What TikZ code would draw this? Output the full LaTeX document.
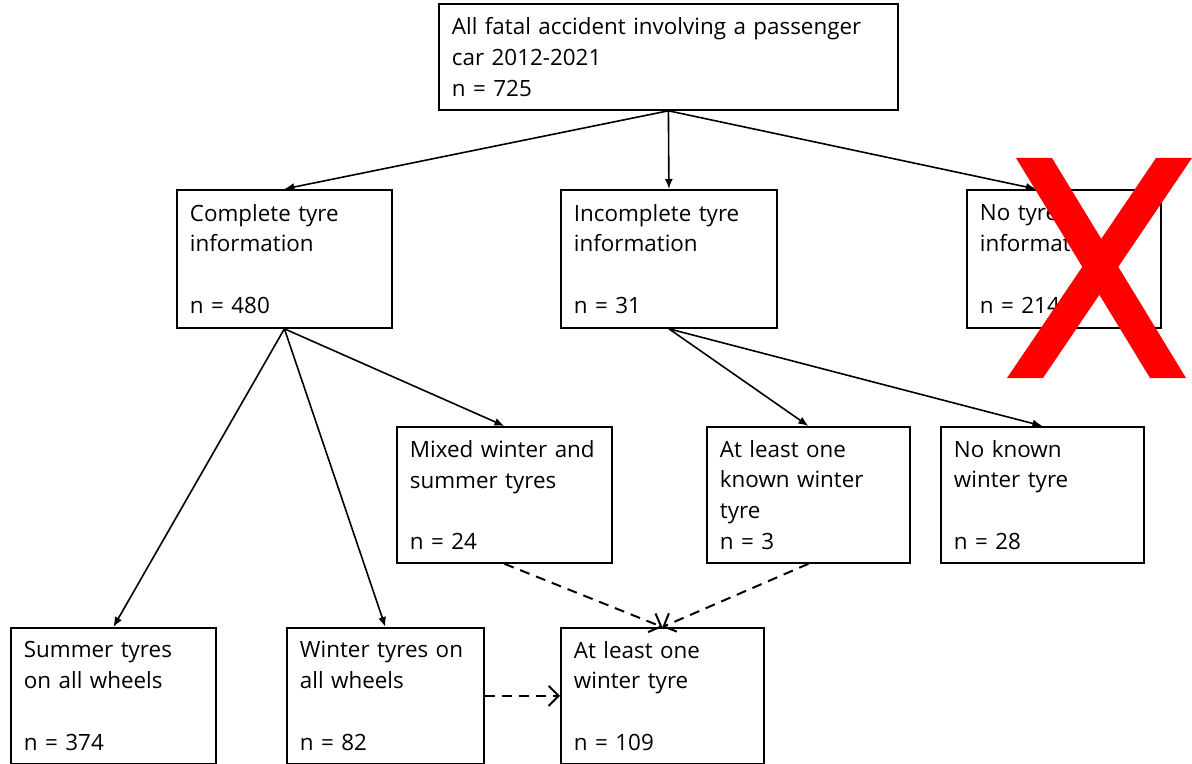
\documentclass[tikz,border=0pt]{standalone}
\usepackage{fontspec}
\setmainfont{Open Sans}
\usepackage{tikz}
\usetikzlibrary{arrows.meta}

\tikzset{
  box/.style={draw, line width=0.9pt, rectangle, anchor=north west, align=left,
    inner xsep=6.5pt, inner ysep=0pt, text width=#1,
    font=\fontsize{11.2}{15.4}\selectfont},
  solidarr/.style={line width=0.8pt, -{Latex[length=5pt,width=4pt]}},
  dasharr/.style={line width=1pt, dash pattern=on 5pt off 3.5pt,
    -{Straight Barb[length=5pt,width=10pt]}}
}

\begin{document}
\begin{tikzpicture}[x=0.5pt,y=-0.5pt]
\useasboundingbox (0,0) rectangle (1192,764);
%\draw[step=50,color=gray] (0,0) grid (1192,764);
\node[box=216.5pt, minimum height=53pt] (all) at (438,3)
  {All fatal accident involving a passenger\\car 2012-2021\\n = 725};
\node[box=94.5pt, minimum height=69pt] (cmpl) at (176,189)
  {Complete tyre\\information\\[15.4pt]n = 480};
\node[box=95pt, minimum height=69pt] (incmpl) at (560,189)
  {Incomplete tyre\\information\\[15.4pt]n = 31};
\node[box=84pt, minimum height=69pt] (notyre) at (966,189)
  {No tyre\\information\\[15.4pt]n = 214};
\node[box=94.5pt, minimum height=68pt] (mixed) at (396,426)
  {Mixed winter and\\summer tyres\\[15.4pt]n = 24};
\node[box=88.5pt, minimum height=68pt] (known) at (706,426)
  {At least one\\known winter\\tyre\\n = 3};
\node[box=88.5pt, minimum height=68pt] (noknown) at (940,426)
  {No known\\winter tyre\\[15.4pt]n = 28};
\node[box=89.5pt, minimum height=68pt] (summer) at (10,627)
  {Summer tyres\\on all wheels\\[15.4pt]n = 374};
\node[box=85.5pt, minimum height=68pt] (winter) at (286,627)
  {Winter tyres on\\all wheels\\[15.4pt]n = 82};
\node[box=88.5pt, minimum height=68pt] (oneplus) at (560,627)
  {At least one\\winter tyre\\[15.4pt]n = 109};

\draw[solidarr] (all.south) -- (cmpl.north);
\draw[solidarr] (all.south) -- (incmpl.north);
\draw[solidarr] (all.south) -- ([xshift=-14pt]notyre.north);
\draw[solidarr] (cmpl.south) -- (summer.north);
\draw[solidarr] (cmpl.south) -- (winter.north);
\draw[solidarr] (cmpl.south) -- (mixed.north);
\draw[solidarr] (incmpl.south) -- (known.north);
\draw[solidarr] (incmpl.south) -- (noknown.north);

\draw[dasharr] (mixed.south) -- (oneplus.north);
\draw[dasharr] (known.south) -- (oneplus.north);
\draw[dasharr] (winter.east) -- (oneplus.west);

% red cross over the discarded group
\fill[red] (1016,158) -- (1052,158) -- (1186,378) -- (1150,378) -- cycle;
\fill[red] (1156,158) -- (1192,158) -- (1043,378) -- (1007,378) -- cycle;
\end{tikzpicture}
\end{document}
